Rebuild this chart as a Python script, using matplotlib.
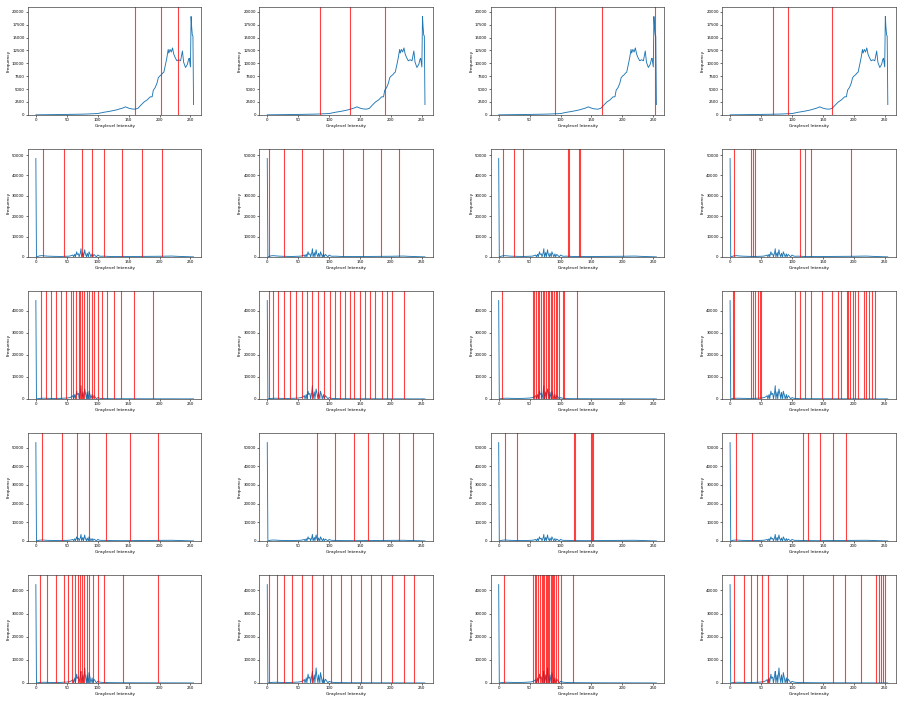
import matplotlib
matplotlib.use("Agg")
import matplotlib.pyplot as plt

# histogram of the bright image (row 0)
bright_x = [0, 20, 50, 80, 100, 110, 120, 130, 140, 145, 150, 155, 160, 165, 170, 175, 180,
            185, 188, 190, 193, 196, 198, 200, 203, 205, 207, 210, 212, 214, 215, 217, 219,
            221, 223, 225, 228, 231, 234, 237, 239, 242, 245, 247, 248, 250, 251, 252, 253, 254, 255]
bright_y = [0, 30, 80, 150, 250, 500, 700, 950, 1300, 1550, 1300, 1150, 1100, 1250, 1900, 2500,
            2900, 3500, 3500, 4800, 5300, 6200, 7200, 7500, 7800, 8100, 8300, 10000, 11200, 12700,
            12000, 12700, 12200, 13000, 11800, 11200, 10500, 10700, 10500, 12400, 10200, 9200,
            9800, 10800, 11000, 9300, 19100, 17000, 15500, 15300, 2000]

# histograms of the dark images (rows 1-4)
dark_x = [0, 1, 3, 6, 10, 15, 20, 30, 40, 50, 55, 58, 60, 61, 63, 64, 66, 67, 69, 70, 72, 73,
          74, 76, 77, 79, 80, 82, 83, 85, 86, 88, 89, 91, 92, 94, 96, 98, 100, 103, 105, 110,
          120, 140, 160, 180, 200, 220, 230, 240, 255]
dark1_y = [48300, 0, 200, 500, 600, 450, 350, 250, 200, 300, 400, 700, 900, 0, 1300, 0, 2500,
           1200, 1500, 0, 2000, 4000, 0, 2100, 0, 3500, 1500, 0, 1800, 0, 2500, 1000, 0, 1500,
           0, 1200, 600, 0, 900, 400, 300, 350, 200, 150, 200, 250, 300, 400, 250, 150, 0]
dark2_y = [44700, 0, 100, 200, 300, 300, 250, 200, 250, 400, 600, 1000, 1500, 0, 2000, 0,
           3500, 2000, 2500, 0, 3000, 6000, 0, 3200, 0, 4500, 3000, 0, 3000, 0, 3500, 1500, 0,
           2000, 0, 1500, 800, 0, 600, 300, 200, 150, 100, 80, 60, 50, 40, 30, 20, 10, 0]
dark3_y = [52700, 0, 200, 400, 500, 400, 300, 250, 200, 300, 400, 600, 800, 0, 1200, 0, 2200,
           1100, 1400, 0, 1800, 3500, 0, 1900, 0, 3200, 1400, 0, 1600, 0, 2200, 900, 0, 1300,
           0, 1000, 500, 0, 800, 400, 300, 300, 200, 150, 200, 250, 300, 350, 250, 150, 0]
dark4_y = [42500, 0, 100, 200, 300, 300, 250, 200, 250, 400, 600, 1000, 1500, 0, 2200, 0,
           3800, 2000, 2600, 0, 3200, 5000, 0, 3500, 0, 6500, 3200, 0, 3500, 0, 4500, 1800, 0,
           2200, 0, 1600, 900, 0, 700, 400, 300, 200, 150, 100, 80, 60, 50, 40, 30, 20, 0]

row_x = [bright_x, dark_x, dark_x, dark_x, dark_x]
row_y = [bright_y, dark1_y, dark2_y, dark3_y, dark4_y]

# thresholds found by each method (columns) for each image (rows)
thresholds = [
    [[160, 203, 230], [85, 133, 190], [91, 167, 252], [70, 93, 165]],
    [[12, 45, 74, 90, 110, 139, 171, 204],
     [2, 27, 56, 90, 123, 155, 184, 213],
     [7, 25, 40, 112, 114, 130, 132, 201],
     [6, 33, 37, 41, 113, 121, 131, 195]],
    [[8, 17, 25, 33, 41, 49, 57, 60, 65, 70, 72, 75, 78, 82, 86, 90, 94, 100, 107, 115, 126,
      138, 158, 189],
     [2, 10, 18, 27, 36, 47, 56, 64, 73, 82, 92, 101, 109, 117, 125, 133, 141, 150, 158, 166,
      175, 185, 194, 202, 221],
     [5, 55, 57, 60, 63, 66, 69, 72, 73, 77, 79, 82, 85, 87, 89, 92, 94, 97, 104, 106, 127],
     [4, 6, 33, 37, 41, 45, 48, 50, 105, 113, 121, 131, 148, 164, 175, 180, 189, 191, 194,
      198, 202, 207, 217, 220, 225, 230, 234]],
    [[10, 42, 66, 86, 113, 152, 198],
     [81, 110, 140, 163, 187, 213, 235],
     [10, 29, 121, 124, 149, 151, 153],
     [10, 36, 118, 126, 146, 166, 188]],
    [[6, 18, 32, 45, 52, 58, 63, 68, 71, 75, 78, 83, 86, 92, 100, 110, 141, 198],
     [2, 16, 27, 40, 56, 73, 90, 103, 119, 135, 152, 168, 184, 202, 221, 237],
     [8, 55, 58, 61, 64, 67, 70, 72, 74, 76, 78, 80, 82, 84, 86, 88, 90, 93, 96, 100, 120],
     [6, 22, 33, 43, 52, 62, 92, 118, 166, 185, 212, 236, 240, 244, 248, 251]],
]

fig, axes = plt.subplots(5, 4, figsize=(9.02, 7.02), dpi=100)
plt.subplots_adjust(left=0.031, right=0.993, top=0.9905, bottom=0.0271,
                    wspace=0.334, hspace=0.313)

for r in range(5):
    top = max(row_y[r]) * 1.1
    for c in range(4):
        ax = axes[r][c]
        ax.plot(row_x[r], row_y[r], color='#1f77b4', linewidth=0.65)
        for t in thresholds[r][c]:
            ax.axvline(t, color='r', linewidth=0.8, alpha=0.75)
        ax.set_xlim(-12.75, 267.75)
        ax.set_ylim(0, top)
        ax.set_xticks([0, 50, 100, 150, 200, 250])
        ax.set_xlabel('Graylevel Intensity', fontsize=3.1, labelpad=1)
        ax.set_ylabel('Frequency', fontsize=3.1, labelpad=1)
        ax.tick_params(labelsize=2.8, length=1.5, width=0.4, pad=1)
        for s in ax.spines.values():
            s.set_linewidth(0.5)
            s.set_color('0.25')

plt.savefig('out.png', dpi=100)
